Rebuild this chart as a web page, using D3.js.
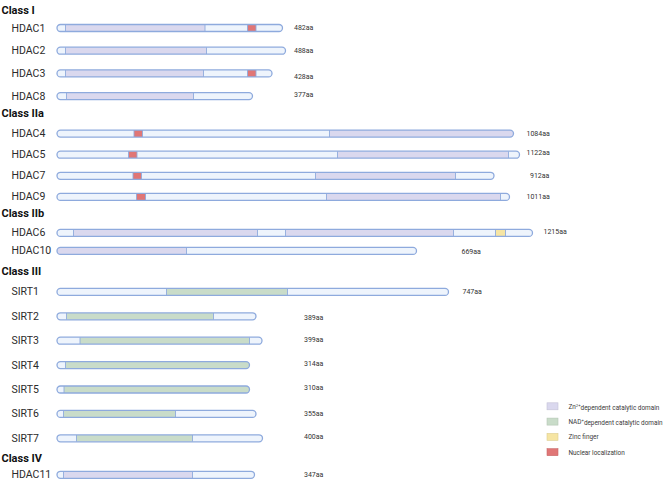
<!DOCTYPE html>
<html lang="en">
<head>
<meta charset="UTF-8">
<script src="https://d3js.org/d3.v7.min.js"></script>
<title>HDAC classes</title>
<style>
  body { margin: 0; background: #fff; }
  text { font-family: Roboto, "Noto Sans", sans-serif; }
</style>
</head>
<body>
<svg id="svg1"></svg>
<script>

// ---- data (lengths and domain bounds in drawn units) ----
const classNames = ["Class I", "Class IIa", "Class IIb", "Class III", "Class IV"]
const proteinNames = ["HDAC1", "HDAC2", "HDAC3", "HDAC8", "HDAC4", "HDAC5", "HDAC7", "HDAC9",
                      "HDAC6", "HDAC10", "SIRT1", "SIRT2", "SIRT3", "SIRT4", "SIRT5", "SIRT6", "SIRT7", "HDAC11"]
const proteinClass = [0, 0, 0, 0, 1, 1, 1, 1, 2, 2, 3, 3, 3, 3, 3, 3, 3, 4]
const aaLength = [482, 488, 428, 377, 1084, 1122, 912, 1011, 1215, 669, 747, 389, 399, 314, 310, 355, 400, 347]
const drawnLength = [451, 457, 430, 391, 913, 925, 874, 905, 951, 719, 783, 398, 410, 385, 385, 398, 411, 395]

// [protein, start, end, type]
const domains = [
  ["HDAC1", 17, 296, "zn"], ["HDAC1", 381, 398, "nls"],
  ["HDAC2", 17, 299, "zn"],
  ["HDAC3", 17, 293, "zn"], ["HDAC3", 381, 398, "nls"],
  ["HDAC8", 19, 273, "zn"],
  ["HDAC4", 154, 171, "nls"], ["HDAC4", 545, 913, "zn"],
  ["HDAC5", 143, 160, "nls"], ["HDAC5", 561, 903, "zn"],
  ["HDAC7", 152, 169, "nls"], ["HDAC7", 517, 797, "zn"],
  ["HDAC9", 159, 177, "nls"], ["HDAC9", 539, 887, "zn"],
  ["HDAC6", 33, 401, "zn"], ["HDAC6", 457, 793, "zn"], ["HDAC6", 877, 897, "zinc"],
  ["HDAC10", 0, 259, "zn"],
  ["SIRT1", 219, 461, "nad"],
  ["SIRT2", 19, 313, "nad"],
  ["SIRT3", 46, 385, "nad"],
  ["SIRT4", 17, 385, "nad"],
  ["SIRT5", 14, 385, "nad"],
  ["SIRT6", 13, 237, "nad"],
  ["SIRT7", 39, 271, "nad"],
  ["HDAC11", 13, 271, "zn"]
]

const domainTypes = ["zn", "nad", "zinc", "nls"]
const legendLabels = [
  ["Zn", "2+", "dependent catalytic domain"],
  ["NAD", "+", "dependent catalytic domain"],
  ["Zinc finger", "", ""],
  ["Nuclear localization", "", ""]
]

// ---- layout / style ----
const width = 669, height = 480
const colors = { zn: "#dad8ee", nad: "#c9dcc9", zinc: "#f6e5a3", nls: "#e07676" }
const barFill = "#eef4fc", barStroke = "#8eaadd"
const barH = 7
const rowPitch = [22.7, 21.1, 18, 24.4, 0]
const headGap = [18, 20.5, 19.5, 20.5, 17]
const afterGap = [17, 16.5, 20.5, 19.5]
// aa label x (drawn units) and small vertical nudges
const labelX = [474, 474, 474, 474, 939, 939, 946, 939, 973, 809, 811, 494, 494, 494, 494, 494, 494, 494]
const labelDy = [-1, -0.7, 3.3, -2, 0, -2, 0, 0, -1, 1, 0, 1.4, -1.4, -1.7, -2.3, 0, -1.6, 0]

let svg = d3.select("#svg1").attr("width", width).attr("height", height)

let x = d3.scaleLinear().domain([0, 1000]).range([57, 557])

// row positions
let headY = [], rowY = []
let y = 10
classNames.forEach((c, ci) => {
  headY.push(y)
  let members = proteinNames.filter((p, i) => proteinClass[i] == ci)
  members.forEach((p, k) => {
    rowY[proteinNames.indexOf(p)] = y + headGap[ci] + k * rowPitch[ci]
  })
  y = y + headGap[ci] + (members.length - 1) * rowPitch[ci] + (afterGap[ci] || 0)
})

// class headers
svg.append("g").selectAll("text")
  .data(classNames)
  .enter()
  .append("text")
  .attr("x", 1.5)
  .attr("y", (d, i) => headY[i])
  .attr("dy", "0.36em")
  .style("font-size", "11px")
  .style("font-weight", "bold")
  .style("fill", "#111")
  .text(d => d)

// protein names
svg.append("g").selectAll("text")
  .data(proteinNames)
  .enter()
  .append("text")
  .attr("x", 11.5)
  .attr("y", (d, i) => rowY[i])
  .attr("dy", "0.34em")
  .style("font-size", "10.5px")
  .style("fill", "#2b2b2b")
  .text(d => d)

let defs = svg.append("defs")
defs.selectAll("clipPath")
  .data(proteinNames)
  .enter()
  .append("clipPath")
  .attr("id", d => "clip-" + d)
  .append("rect")
  .attr("x", x(0))
  .attr("y", (d, i) => rowY[i] - barH / 2)
  .attr("width", (d, i) => x(drawnLength[i]) - x(0))
  .attr("height", barH)
  .attr("rx", barH / 2)

let bars = svg.append("g").selectAll("g")
  .data(proteinNames)
  .enter()
  .append("g")
  .attr("clip-path", d => `url(#clip-${d})`)

bars.append("rect")
  .attr("x", x(0))
  .attr("y", (d, i) => rowY[i] - barH / 2)
  .attr("width", (d, i) => x(drawnLength[i]) - x(0))
  .attr("height", barH)
  .style("fill", barFill)

bars.each(function(p, i) {
  let g = d3.select(this)
  let ds = domains.filter(d => d[0] == p)
  g.selectAll("rect.dom")
    .data(ds)
    .enter()
    .append("rect")
    .attr("class", "dom")
    .attr("x", d => x(d[1]))
    .attr("y", rowY[i] - barH / 2)
    .attr("width", d => x(d[2]) - x(d[1]))
    .attr("height", barH)
    .style("fill", d => colors[d[3]])
  // boundaries between segments
  let cuts = []
  ds.forEach(d => {
    if (d[1] > 0) cuts.push(d[1])
    if (d[2] < drawnLength[i]) cuts.push(d[2])
  })
  g.selectAll("line")
    .data(cuts)
    .enter()
    .append("line")
    .attr("x1", d => x(d)).attr("x2", d => x(d))
    .attr("y1", rowY[i] - barH / 2).attr("y2", rowY[i] + barH / 2)
    .style("stroke", barStroke)
    .style("stroke-width", 0.9)
})

// outlines
svg.append("g").selectAll("rect")
  .data(proteinNames)
  .enter()
  .append("rect")
  .attr("x", x(0))
  .attr("y", (d, i) => rowY[i] - barH / 2)
  .attr("width", (d, i) => x(drawnLength[i]) - x(0))
  .attr("height", barH)
  .attr("rx", barH / 2)
  .style("fill", "none")
  .style("stroke", barStroke)
  .style("stroke-width", 1.3)

// length labels
svg.append("g").selectAll("text")
  .data(aaLength)
  .enter()
  .append("text")
  .attr("x", (d, i) => x(labelX[i]))
  .attr("y", (d, i) => rowY[i] + labelDy[i])
  .attr("dy", "0.36em")
  .style("font-size", "7px")
  .style("fill", "#333")
  .text(d => d + "aa")

// legend
let legend = svg.append("g").attr("transform", "translate(547,406.3)")
let item = legend.selectAll("g")
  .data(domainTypes)
  .enter()
  .append("g")
  .attr("transform", (d, i) => `translate(0,${i * 15.3})`)

item.append("rect")
  .attr("x", 0).attr("y", -3.5)
  .attr("width", 11).attr("height", 7)
  .style("fill", d => colors[d])
  .style("stroke", d => d3.color(colors[d]).darker(0.3))
  .style("stroke-width", 0.6)

let lt = item.append("text")
  .attr("x", 21.5)
  .attr("dy", "0.36em")
  .style("font-size", "6.4px")
  .style("fill", "#3a3a3a")
lt.append("tspan").text((d, i) => legendLabels[i][0])
lt.append("tspan").attr("dy", "-0.45em").style("font-size", "4.2px").text((d, i) => legendLabels[i][1])
lt.append("tspan").attr("dy", "0.45em").text((d, i) => legendLabels[i][2])

</script>
</body>
</html>
